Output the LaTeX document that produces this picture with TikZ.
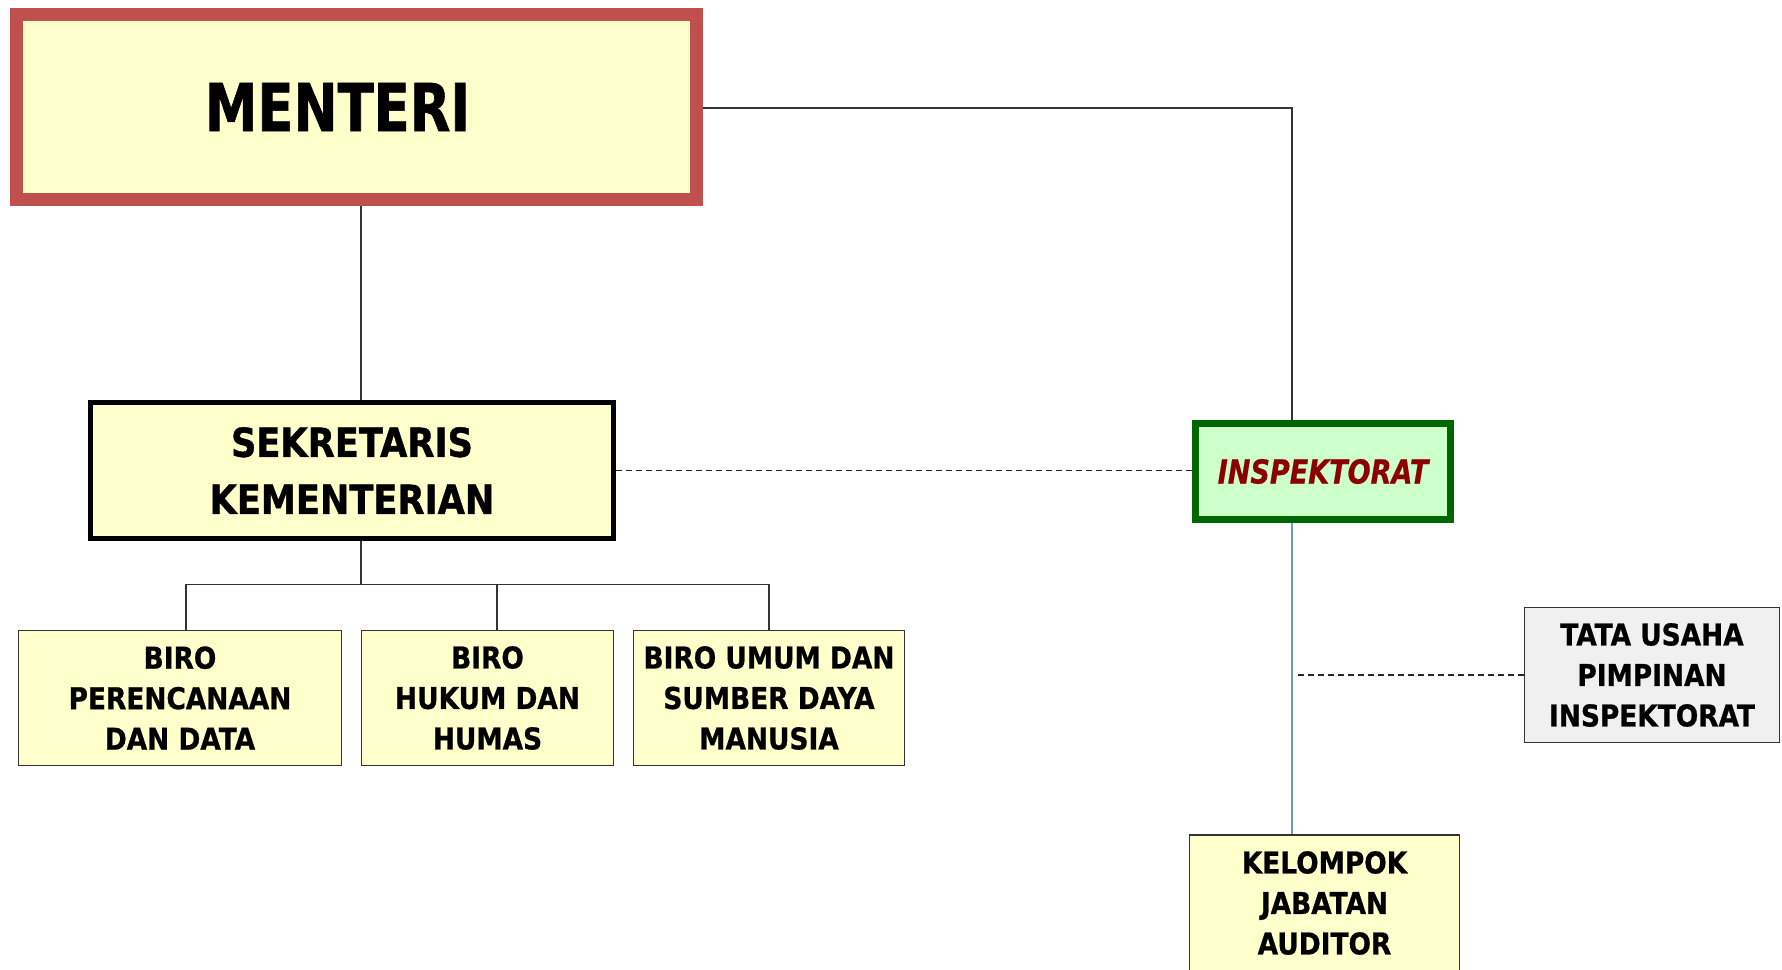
\documentclass[tikz,border=0pt]{standalone}
\usepackage{fontspec}
\newfontfamily\fmen[FakeStretch=0.80,FakeBold=1]{DejaVu Sans}
\newfontfamily\fsek[FakeStretch=0.88,FakeBold=1]{DejaVu Sans}
\newfontfamily\fsml[FakeStretch=0.88,FakeBold=0.8]{DejaVu Sans}
\newfontfamily\fins[FakeStretch=0.82,FakeBold=0.6]{DejaVu Sans}
\definecolor{boxyellow}{HTML}{FFFFCC}
\definecolor{menred}{HTML}{C0504D}
\definecolor{insgreen}{HTML}{006600}
\definecolor{insfill}{HTML}{CCFFCC}
\definecolor{instext}{HTML}{8B0000}
\definecolor{linegray}{HTML}{333333}
\definecolor{auditblue}{HTML}{6C9BC8}
\definecolor{tatafill}{HTML}{F0F0F0}
\begin{document}
\begin{tikzpicture}[x=1pt,y=-1pt,
  base/.style={rectangle, inner sep=0pt, align=center, text=black},
  menbox/.style={base, fill=boxyellow, draw=menred, line width=13pt,
    minimum width=680pt, minimum height=185pt,
    font=\fmen\bfseries\fontsize{66}{70}\selectfont},
  sekbox/.style={base, fill=boxyellow, draw=black, line width=5pt,
    minimum width=523pt, minimum height=136pt,
    font=\fsek\bfseries\fontsize{40}{57}\selectfont},
  insbox/.style={base, fill=insfill, draw=insgreen, line width=7pt,
    minimum width=255pt, minimum height=96pt, text=instext,
    font=\fins\bfseries\itshape\fontsize{33}{36}\selectfont},
  unitbox/.style={base, fill=boxyellow, draw=linegray, line width=1.6pt,
    minimum height=135pt,
    font=\fsml\bfseries\fontsize{30}{40.5}\selectfont},
  tatabox/.style={unitbox, fill=tatafill},
  conn/.style={draw=linegray, line width=1.5pt},
  dashconn/.style={draw=black!85, line width=1.8pt, dash pattern=on 6pt off 4pt},
  blueconn/.style={draw=auditblue, line width=1.5pt}
]
\useasboundingbox (0,0) rectangle (1782,969);
\clip (0,0) rectangle (1782,969);
\fill[white] (0,0) rectangle (1782,969);

% nodes
\node[menbox] (men) at (356.5,107) {MENTERI\hspace*{38pt}};
\node[sekbox] (sek) at (352,470.5) {SEKRETARIS\\KEMENTERIAN};
\node[insbox] (ins) at (1323,471.5) {INSPEKTORAT};
\node[unitbox, minimum width=323pt] (b1) at (180,698) {BIRO\\PERENCANAAN\\DAN DATA};
\node[unitbox, minimum width=252pt] (b2) at (487.5,698) {BIRO\\HUKUM DAN\\HUMAS};
\node[unitbox, minimum width=271pt] (b3) at (769,698) {BIRO UMUM DAN\\SUMBER DAYA\\MANUSIA};
\node[tatabox, minimum width=255pt] (tata) at (1652,675) {TATA USAHA\\PIMPINAN\\INSPEKTORAT};
\node[unitbox, minimum width=270pt, minimum height=136pt] (kel) at (1324.5,903) {KELOMPOK\\JABATAN\\AUDITOR};

% helper coordinates
\coordinate (mx) at (361,0);
\coordinate (bus) at (0,585);
\coordinate (ix) at (1292,108);
\coordinate (tx) at (1298,675);

% connectors
\draw[conn] (mx |- men.south) -- (mx |- sek.north);
\draw[conn] (mx |- sek.south) -- (mx |- bus);
\draw[conn] ([xshift=6pt]b1.north) -- ++(0,-45) -| (b3.north);
\draw[conn] ([xshift=9.5pt]b2.north) -- ++(0,-45);
\draw[conn] (men.east |- ix) -- (ix) -- (ix |- ins.north);
\draw[dashconn] (sek.east) -- (sek.east -| ins.west);
\draw[blueconn] (ix |- ins.south) -- (ix |- kel.north);
\draw[dashconn] (tx) -- (tata.west);
\end{tikzpicture}
\end{document}
